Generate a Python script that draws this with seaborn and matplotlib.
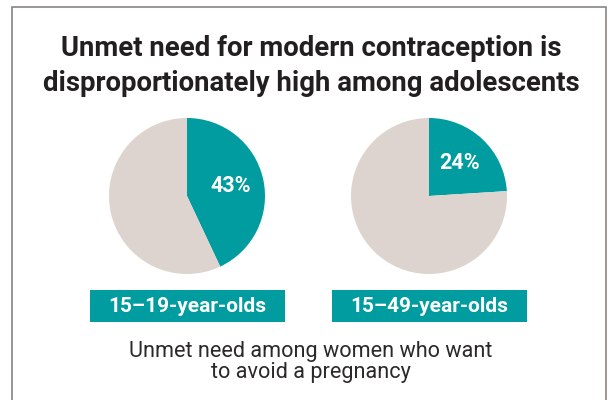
import matplotlib
matplotlib.use("Agg")
import matplotlib.pyplot as plt
from matplotlib.patches import Rectangle
import seaborn as sns

# Data
groups = ["15\u201319-year-olds", "15\u201349-year-olds"]
unmet_pct = [43, 24]
title = "Unmet need for modern contraception is\ndisproportionately high among adolescents"
caption = "Unmet need among women who want\nto avoid a pregnancy"

teal = "#009c9f"
beige = "#ddd4cf"

sns.set_theme(style="white")
plt.rcParams['font.family'] = ['Roboto', 'DejaVu Sans']

W, H = 614, 400
fig = plt.figure(figsize=(W / 100, H / 100), dpi=100)
fig.patch.set_facecolor("white")

# outer frame
fig.add_artist(Rectangle((12 / W, -0.01), (606 - 12) / W, (H - 7) / H + 0.01,
                         transform=fig.transFigure, fill=False,
                         edgecolor="#8a8380", linewidth=1.2))

fig.text(311 / W, 1 - 66 / H, title, ha="center", va="center",
         fontsize=19.8, fontweight="bold", color="#231f20", linespacing=1.35)

centers = [187, 429]
r = 78
for cx, grp, pct in zip(centers, groups, unmet_pct):
    ax = fig.add_axes([(cx - r) / W, (H - 196 - r) / H, 2 * r / W, 2 * r / H])
    wedges, texts, autotexts = ax.pie(
        [pct, 100 - pct], colors=[teal, beige], startangle=90,
        counterclock=False, radius=1,
        autopct=lambda p: f"{p:.0f}%" if p < 50 else "",
        pctdistance=0.58,
        wedgeprops=dict(linewidth=0),
        textprops=dict(color="white", fontsize=15.5, fontweight="bold"))
    ax.set_xlim(-1, 1)
    ax.set_ylim(-1, 1)
    ax.set_aspect("equal")
    ax.axis("off")

    # label box
    bx0, bx1 = cx - 97, cx + 98
    fig.add_artist(Rectangle((bx0 / W, 1 - 322 / H), (bx1 - bx0) / W, 32 / H,
                             transform=fig.transFigure, facecolor=teal,
                             edgecolor="none"))
    fig.text(cx / W, 1 - 306 / H, grp, ha="center", va="center",
             fontsize=15, fontweight="bold", color="white")

fig.text(311 / W, 1 - 362 / H, caption, ha="center", va="center",
         fontsize=15.6, color="#2b2828", linespacing=1.05)

fig.savefig("out.png", dpi=100, facecolor="white")
